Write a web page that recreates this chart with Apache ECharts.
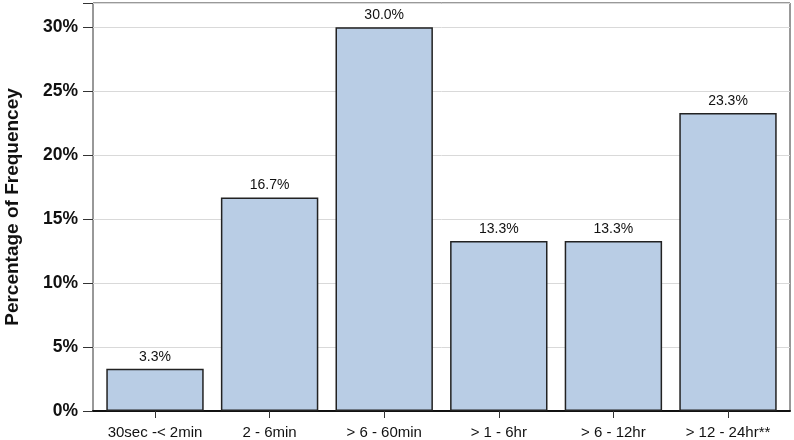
<!DOCTYPE html>
<html><head><meta charset="utf-8">
<script src="https://cdn.jsdelivr.net/npm/echarts@6/dist/echarts.min.js"></script>
<style>html,body{margin:0;padding:0;background:#fff}#c{width:794px;height:440px}</style>
</head><body><div id="c"></div>
<script>
const categories = ['30sec -< 2min', '2 - 6min', '> 6 - 60min', '> 1 - 6hr', '> 6 - 12hr', '> 12 - 24hr**'];
const values = [3.3, 16.7, 30.0, 13.3, 13.3, 23.3];
const yTicks = [0, 5, 10, 15, 20, 25, 30];
const yTitle = 'Percentage of Frequencey';

const chart = echarts.init(document.getElementById('c'), null, {renderer: 'canvas'});
chart.setOption({
  animation: false,
  grid: [
    {left: 93, right: 4, top: 3, bottom: 29, show: true, borderColor: '#333', borderWidth: 1,
      containLabel: false, outerBoundsMode: 'none'},
    {left: 97.7, right: 8.7, top: 3, bottom: 29, containLabel: false, outerBoundsMode: 'none'}
  ],
  xAxis: [
    {gridIndex: 0, type: 'category', data: categories,
      axisLine: {lineStyle: {color: '#111', width: 2}},
      axisTick: {show: false}, axisLabel: {show: false}, splitLine: {show: false}},
    {gridIndex: 1, type: 'category', data: categories,
      axisLine: {show: false},
      axisTick: {show: true, alignWithLabel: true, length: 7, lineStyle: {color: '#333'}},
      axisLabel: {interval: 0, hideOverlap: false, color: '#111', fontFamily: 'Liberation Sans', fontSize: 15, margin: 14}}
  ],
  yAxis: [
    {gridIndex: 0, type: 'value', min: 0, max: 31.9, interval: 5,
      name: yTitle, nameLocation: 'middle', nameGap: 71, nameRotate: 90,
      nameTextStyle: {color: '#111', fontFamily: 'Liberation Sans', fontSize: 19, fontWeight: 'bold'},
      axisLine: {show: false},
      axisTick: {show: true, length: 10, lineStyle: {color: '#333'}},
      axisLabel: {color: '#111', fontFamily: 'Liberation Sans', fontSize: 17.5, fontWeight: 'bold', margin: 15,
        formatter: v => yTicks.includes(v) ? v + '%' : ''},
      splitLine: {show: true, lineStyle: {color: '#d9d9d9', width: 1}}},
    {gridIndex: 1, type: 'value', min: 0, max: 31.9, interval: 5, show: false, splitLine: {show: false}}
  ],
  series: [{
    type: 'bar', xAxisIndex: 1, yAxisIndex: 1, data: values, barCategoryGap: '15%',
    itemStyle: {color: '#b9cde5', borderColor: '#222', borderWidth: 1.5},
    label: {show: true, position: 'top', distance: 5, color: '#111', fontFamily: 'Liberation Sans', fontSize: 14,
      formatter: p => p.value.toFixed(1) + '%'}
  }]
});
</script></body></html>
